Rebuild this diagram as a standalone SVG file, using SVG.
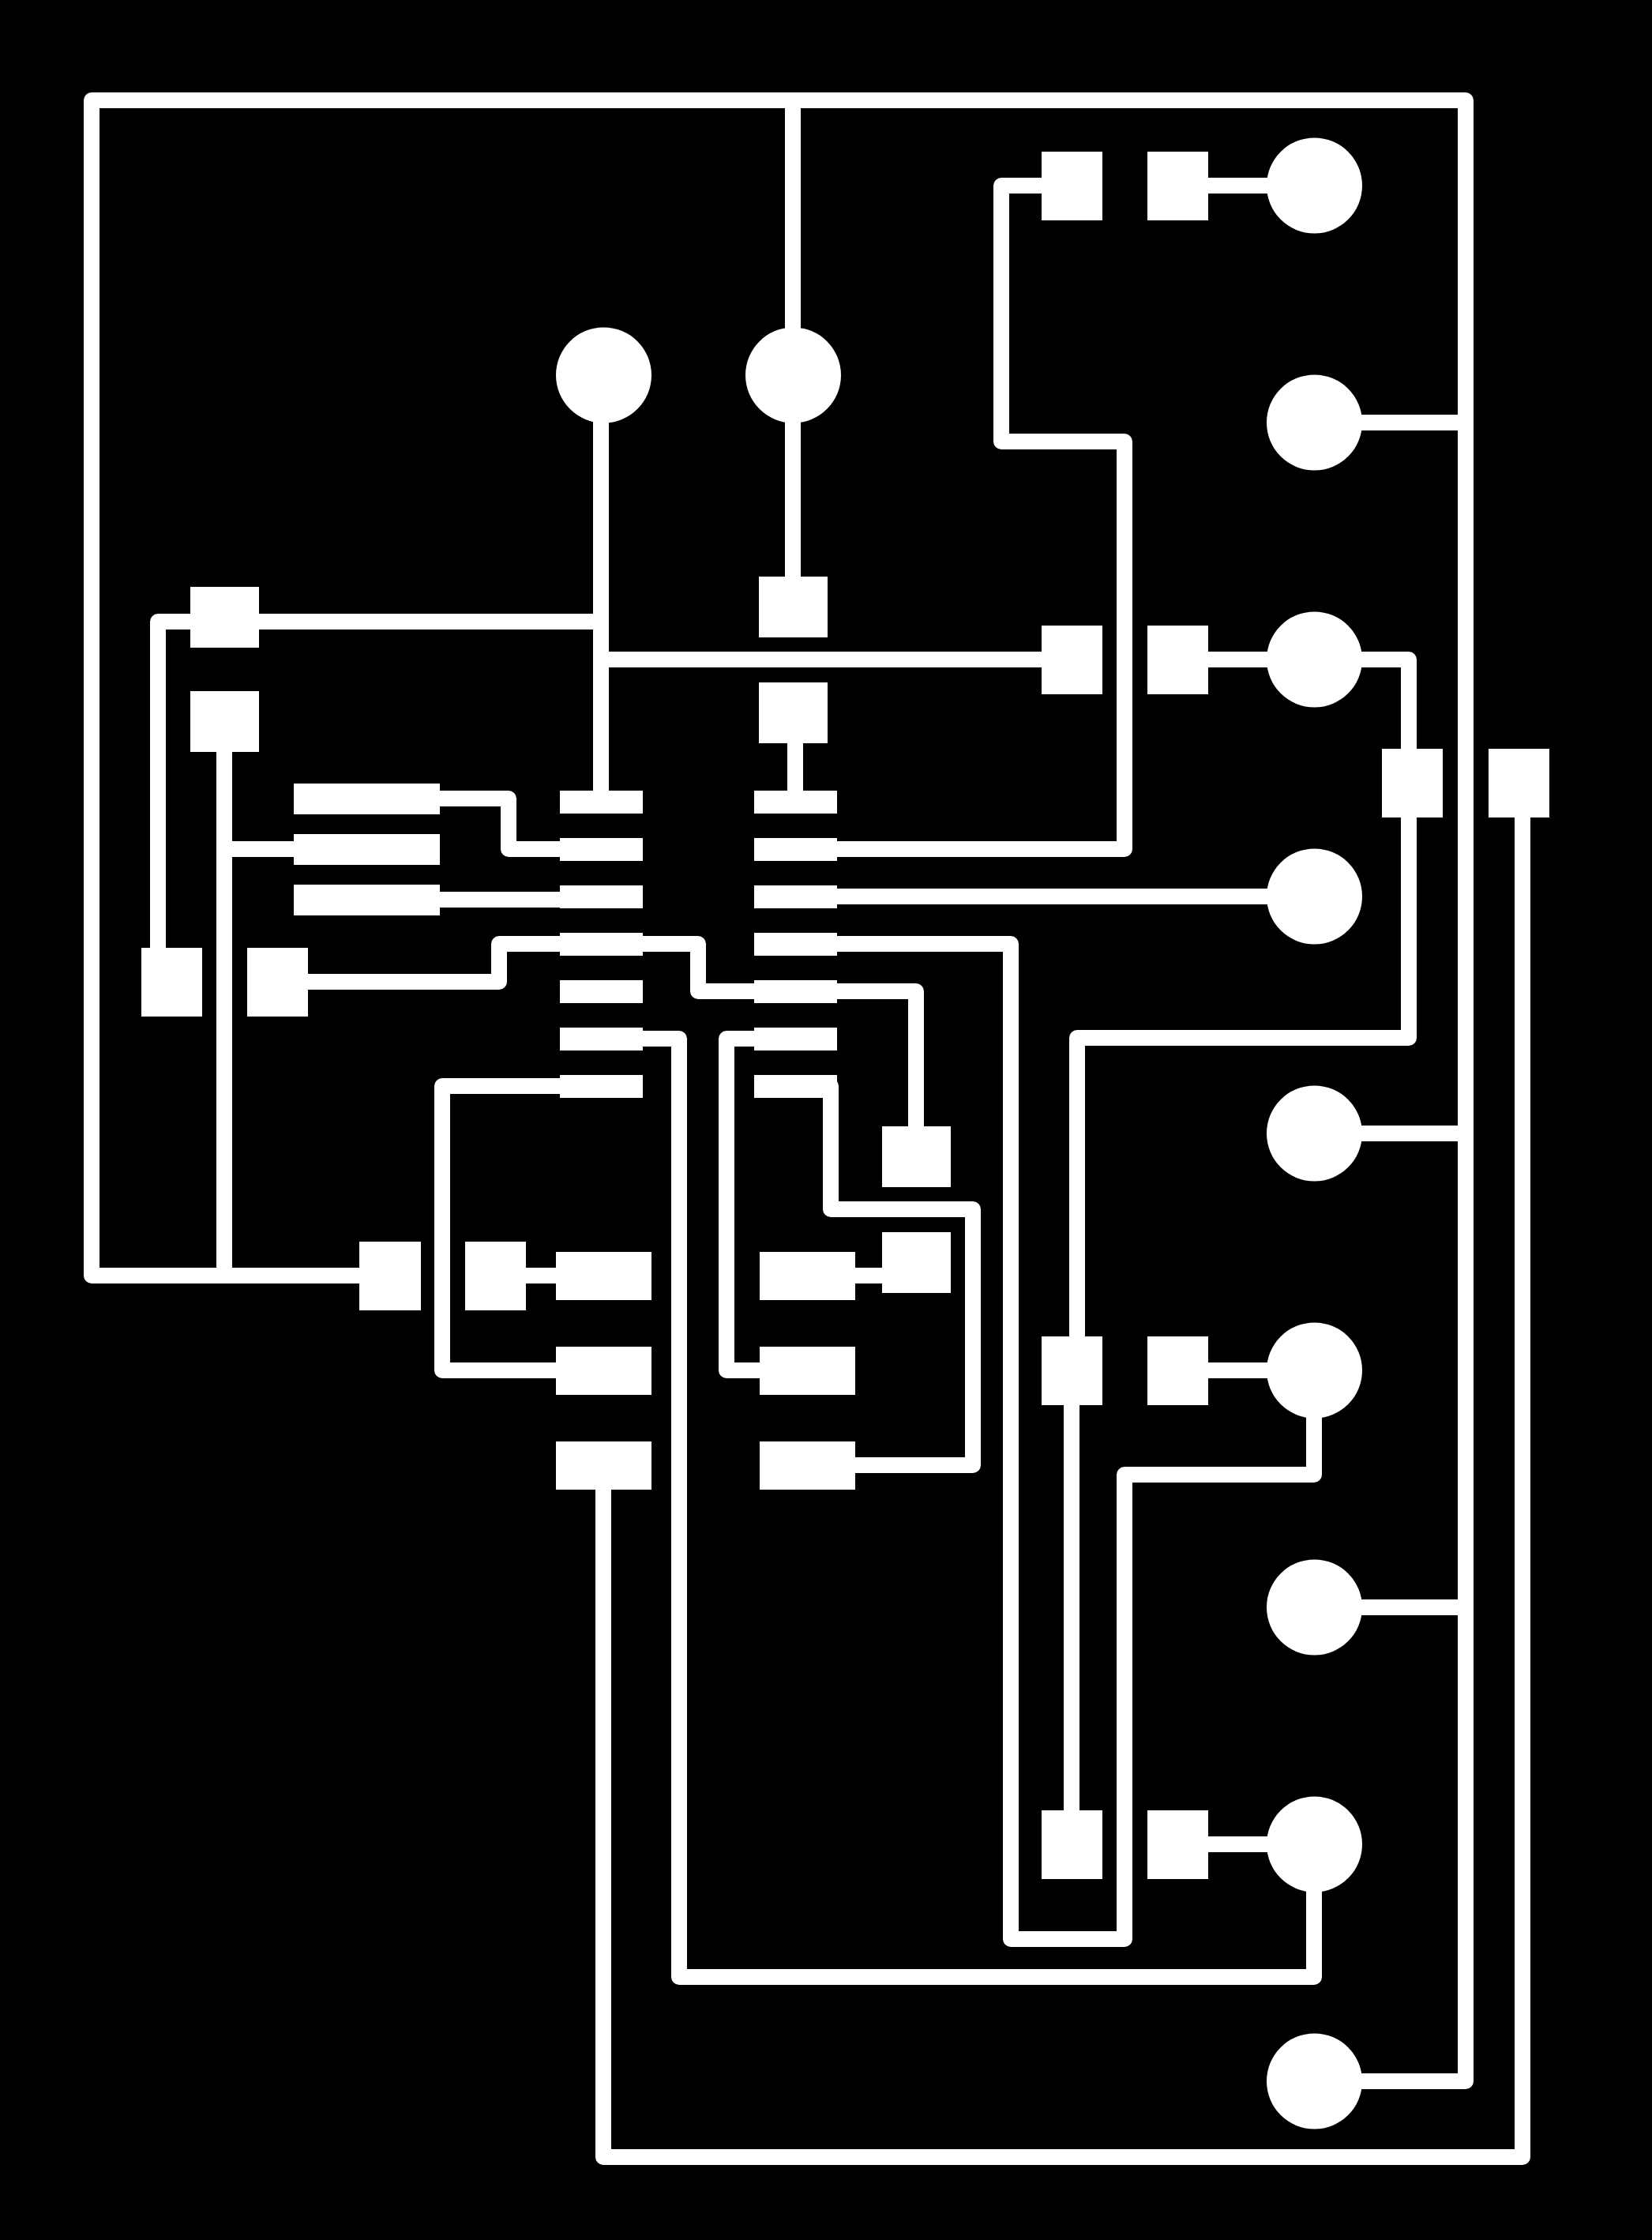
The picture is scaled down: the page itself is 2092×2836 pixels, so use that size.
<svg xmlns="http://www.w3.org/2000/svg" width="2092" height="2836" viewBox="0 0 2092 2836">
<style>
.t{fill:none;stroke:#fff;stroke-width:20;stroke-linejoin:round}
.p{fill:#fff}
</style>
<rect width="2092" height="2836" fill="#000"/>
<g id="connectors">
<path class="t" d="M500 1615H116V127H1856V2635H1664"/>
<path class="t" d="M1004 127V730"/>
<path class="t" d="M1664 535H1856M1664 2035H1856"/>
<path class="t" d="M1664 1435H1856"/>
<path class="t" d="M1357 235H1268V559H1424V1075H1000"/>
<path class="t" d="M1490 235H1664M1490 835H1664M1490 1735H1664M1490 2335H1664"/>
<path class="t" d="M761 477V1010"/>
<path class="t" d="M761 787H200V1240"/>
<path class="t" d="M761 835H1357"/>
<path class="t" d="M1007 900V1010"/>
<path class="t" d="M284 920V1615"/>
<path class="t" d="M284 1075H450"/>
<path class="t" d="M500 1011H644V1075H760"/>
<path class="t" d="M500 1139H760"/>
<path class="t" d="M1000 1135H1664"/>
<path class="t" d="M350 1243H632V1195H884V1255H1160V1450"/>
<path class="t" d="M1000 1195H1280V2455H1424V1867H1664V1735"/>
<path class="t" d="M760 1315H860V2503H1664V2335"/>
<path class="t" d="M1000 1315H920V1735H1000"/>
<path class="t" d="M760 1375H560V1735H760"/>
<path class="t" d="M1000 1375H1052V1531H1232V1855H1040"/>
<path class="t" d="M640 1615H720"/>
<path class="t" d="M1040 1615H1150"/>
<path class="t" d="M764 1860V2731H1928V1000"/>
<path class="t" d="M1664 835H1784V1314H1364V1735"/>
<path class="t" d="M1357 1735V2335"/>
</g>
<g id="circle-1"><circle class="p" cx="1664.5" cy="235" r="60.5"/></g>
<g id="circle-2"><circle class="p" cx="1664.5" cy="535" r="60.5"/></g>
<g id="circle-3"><circle class="p" cx="1664.5" cy="835" r="60.5"/></g>
<g id="circle-4"><circle class="p" cx="1664.5" cy="1135" r="60.5"/></g>
<g id="circle-5"><circle class="p" cx="1664.5" cy="1435" r="60.5"/></g>
<g id="circle-6"><circle class="p" cx="1664.5" cy="1735" r="60.5"/></g>
<g id="circle-7"><circle class="p" cx="1664.5" cy="2035" r="60.5"/></g>
<g id="circle-8"><circle class="p" cx="1664.5" cy="2335" r="60.5"/></g>
<g id="circle-9"><circle class="p" cx="1664.5" cy="2635" r="60.5"/></g>
<g id="circle-10"><circle class="p" cx="764.5" cy="475" r="60.5"/></g>
<g id="circle-11"><circle class="p" cx="1004.5" cy="475" r="60.5"/></g>
<g id="pads-right">
<rect class="p" x="1319" y="192" width="77" height="87"/>
<rect class="p" x="1453" y="192" width="77" height="87"/>
<rect class="p" x="1319" y="792" width="77" height="87"/>
<rect class="p" x="1453" y="792" width="77" height="87"/>
<rect class="p" x="1319" y="1692" width="77" height="87"/>
<rect class="p" x="1453" y="1692" width="77" height="87"/>
<rect class="p" x="1319" y="2292" width="77" height="87"/>
<rect class="p" x="1453" y="2292" width="77" height="87"/>
<rect class="p" x="1750" y="948" width="77" height="87"/>
<rect class="p" x="1885" y="948" width="77" height="87"/>
</g>
<g id="pads-top">
<rect class="p" x="961" y="730" width="87" height="77"/>
<rect class="p" x="961" y="864" width="87" height="77"/>
<rect class="p" x="241" y="743" width="87" height="77"/>
<rect class="p" x="241" y="875" width="87" height="77"/>
<rect class="p" x="179" y="1200" width="77" height="87"/>
<rect class="p" x="313" y="1200" width="77" height="87"/>
</g>
<g id="soic-left">
<rect class="p" x="372" y="992" width="185" height="39"/>
<rect class="p" x="372" y="1056" width="185" height="39"/>
<rect class="p" x="372" y="1120" width="185" height="39"/>
</g>
<g id="ic">
<rect class="p" x="709" y="1001" width="105" height="29"/>
<rect class="p" x="709" y="1061" width="105" height="29"/>
<rect class="p" x="709" y="1121" width="105" height="29"/>
<rect class="p" x="709" y="1181" width="105" height="29"/>
<rect class="p" x="709" y="1241" width="105" height="29"/>
<rect class="p" x="709" y="1301" width="105" height="29"/>
<rect class="p" x="709" y="1361" width="105" height="29"/>
<rect class="p" x="955" y="1001" width="105" height="29"/>
<rect class="p" x="955" y="1061" width="105" height="29"/>
<rect class="p" x="955" y="1121" width="105" height="29"/>
<rect class="p" x="955" y="1181" width="105" height="29"/>
<rect class="p" x="955" y="1241" width="105" height="29"/>
<rect class="p" x="955" y="1301" width="105" height="29"/>
<rect class="p" x="955" y="1361" width="105" height="29"/>
</g>
<g id="pads-bottom">
<rect class="p" x="455" y="1572" width="78" height="87"/>
<rect class="p" x="589" y="1572" width="77" height="87"/>
<rect class="p" x="704" y="1585" width="121" height="61"/>
<rect class="p" x="704" y="1705" width="121" height="61"/>
<rect class="p" x="704" y="1825" width="121" height="61"/>
<rect class="p" x="962" y="1585" width="121" height="61"/>
<rect class="p" x="962" y="1705" width="121" height="61"/>
<rect class="p" x="962" y="1825" width="121" height="61"/>
<rect class="p" x="1117" y="1426" width="87" height="77"/>
<rect class="p" x="1117" y="1560" width="87" height="77"/>
</g>
</svg>
